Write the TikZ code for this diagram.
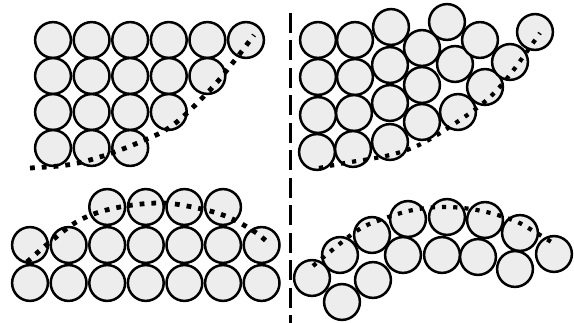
\documentclass[tikz,border=0pt]{standalone}
\usetikzlibrary{calc}
\definecolor{ballfill}{RGB}{237,237,237}
\begin{document}
\begin{tikzpicture}[x=1pt,y=-1pt,
  ball/.style={circle,draw=black,fill=ballfill,line width=2.5pt,inner sep=0pt,minimum size=35.8pt},
  dotline/.style={line width=4.8pt,dash pattern=on 4.8pt off 7pt,black},
  divider/.style={line width=2.5pt,dash pattern=on 20pt off 7.5pt,black}]
\useasboundingbox (0,0) rectangle (574,323);
% divider
\coordinate (dtop) at (290.5,13);
\coordinate (dbot) at (290.5,323);
\draw[divider] (dtop) -- (dbot);
% ---------- top-left ----------
\foreach \r/\n [count=\ri] in {40/6,76/5,112/4,148/3}{
  \foreach \c in {1,...,\n}{
    \node[ball] (tl-\ri-\c) at ({53+38.6*(\c-1)},\r) {};
  }
}
\draw[dotline] plot[smooth,tension=0.6] coordinates {(30,168) (67,165) (100,157) (140,142) (173,125) (210,90) (235,60) (254,35)};
% ---------- top-right ----------
\foreach \p [count=\i] in {(318,40),(318,77),(318,115),(317,152),
  (355,40),(355,77),(354,113),(353,149),
  (391,27),(390,65),(390,103),(390,142),
  (422,48),(422,85),(422,122),
  (447,22),(455,64),(458,112),
  (480,40),(485,87),
  (510,62),(535,32)}{
  \node[ball] (tr-\i) at \p {};
}
\draw[dotline,line width=4.2pt,dash pattern=on 4.2pt off 7pt] plot[smooth,tension=0.6] coordinates {(319,168) (345,163) (390,155) (423,143) (463,118) (490,97) (512,72) (540,33)};
% ---------- bottom-left ----------
\foreach \c in {1,...,7}{
  \node[ball] (bl-3-\c) at ({30+38.6*(\c-1)},283) {};
  \node[ball] (bl-2-\c) at ({30+38.6*(\c-1)},245) {};
}
\foreach \c in {3,...,6}{
  \node[ball] (bl-1-\c) at ({30+38.6*(\c-1)},207) {};
}
\draw[dotline] plot[smooth,tension=0.6] coordinates {(27,262) (50,242) (80,220) (115,208) (160,203) (197,208) (228,217) (255,232) (267,242)};
% ---------- bottom-right ----------
\foreach \p [count=\i] in {(312,278),(342,302),(373,280),(403,255),(442,255),(478,257),(515,269),(554,254),
  (340,255),(372,235),(408,219),(447,217),(485,220),(520,233)}{
  \node[ball] (br-\i) at \p {};
}
\draw[dotline,line width=4.2pt,dash pattern=on 4.2pt off 7pt] plot[smooth,tension=0.6] coordinates {(313,266) (331,251) (358,230) (380,220) (413,210) (447,207) (482,211) (515,221) (535,232) (553,243)};
\end{tikzpicture}
\end{document}
